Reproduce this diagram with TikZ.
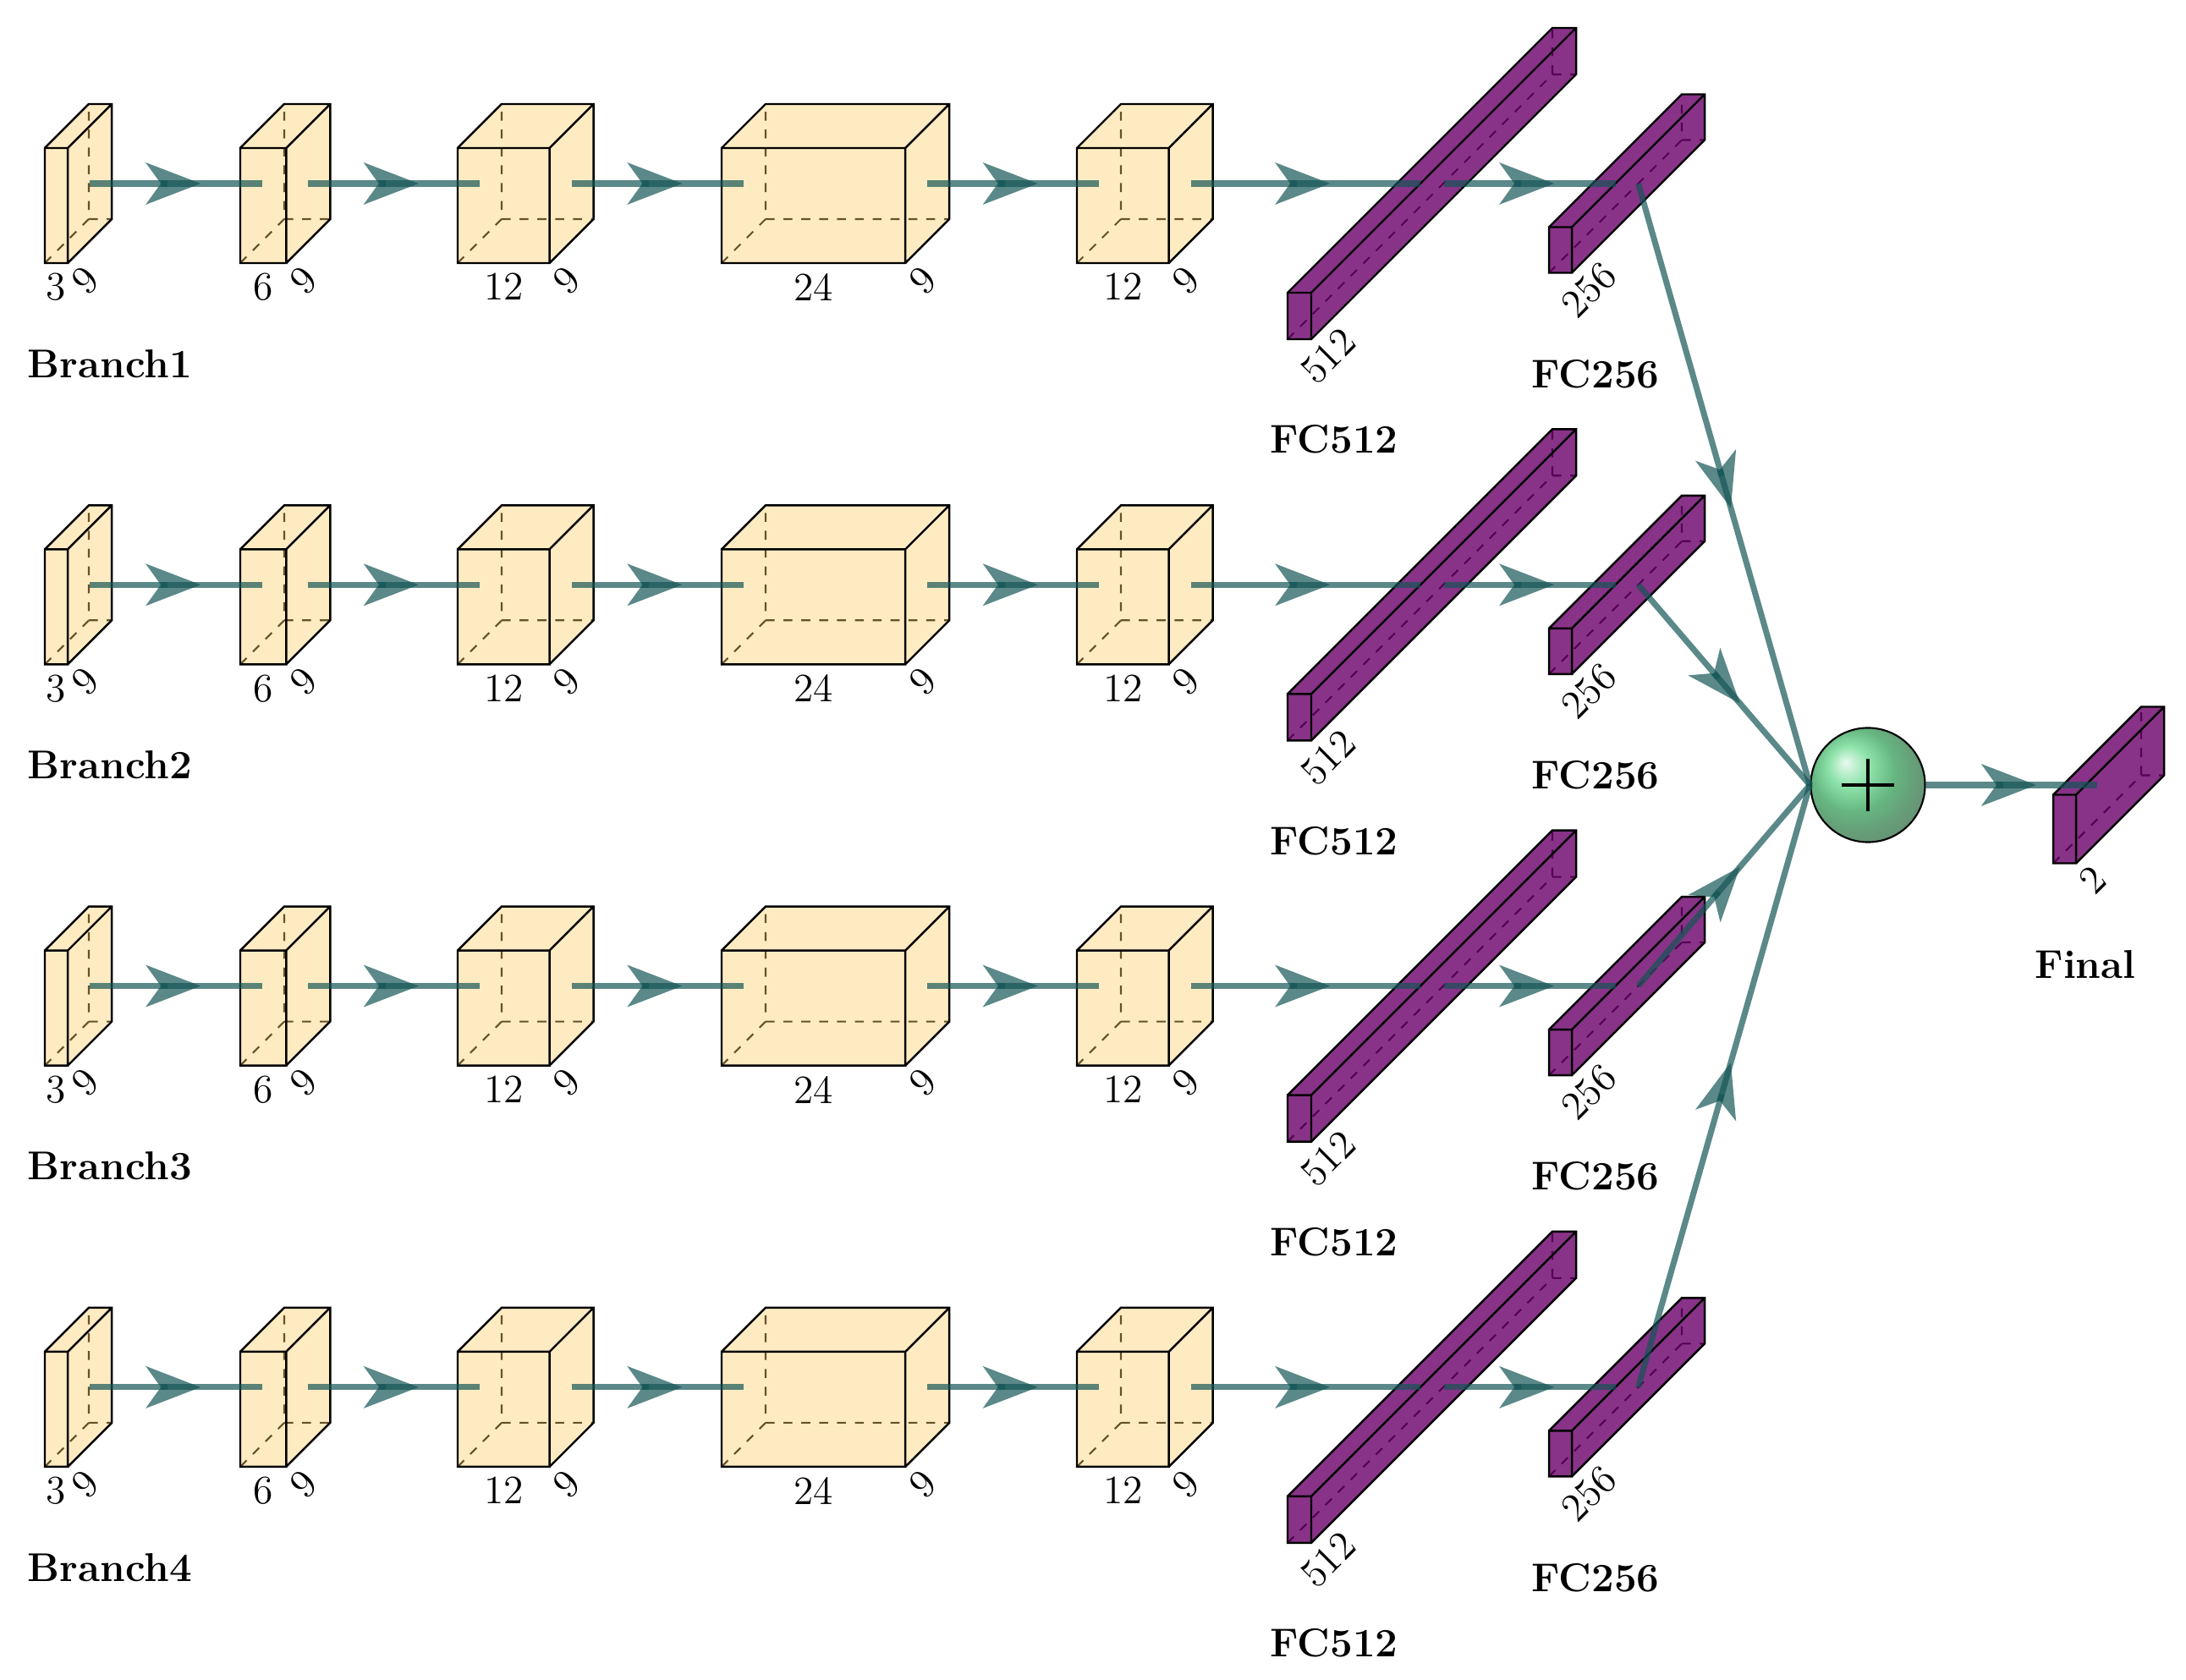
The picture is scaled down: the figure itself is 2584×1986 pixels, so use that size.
\documentclass[tikz,border=0pt]{standalone}
\usepackage{fontspec}
\usepackage{tikz}
\usetikzlibrary{arrows.meta,decorations.markings}
\definecolor{convfill}{RGB}{255,204,102}
\definecolor{fcfill}{RGB}{106,0,106}
\definecolor{edgecol}{RGB}{21,85,85}
\definecolor{sumgreen}{RGB}{0,191,64}

% cuboid: #1 name, #2 front-left x, #3 centre y, #4 width, #5 height, #6 depth, #7 fill, #8 fill opacity
\newcommand{\cuboid}[8]{%
  \pgfmathsetmacro\cbt{#3+#6/2-#5/2}%
  \pgfmathsetmacro\cbb{#3+#6/2+#5/2}%
  \pgfmathsetmacro\cbr{#2+#4}%
  \coordinate (#1-w) at (#2+#6/2,#3);
  \coordinate (#1-e) at (\cbr+#6/2,#3);
  \coordinate (#1-fbc) at (#2/2+\cbr/2,\cbb);
  \coordinate (#1-fbr) at (\cbr,\cbb);
  \draw[backline] (#2,\cbb) -- ++(#6,-#6) -- ++(0,-#5) ++(0,#5) -- ++(#4,0);
  \fill[#7,fill opacity=#8] (#2,\cbt) rectangle (\cbr,\cbb)
    (#2,\cbt) -- ++(#6,-#6) -- ++(#4,0) -- (\cbr,\cbt) -- cycle
    (\cbr,\cbt) -- ++(#6,-#6) -- ++(0,#5) -- (\cbr,\cbb) -- cycle;
  \draw[frontline] (#2,\cbt) rectangle (\cbr,\cbb)
    (#2,\cbt) -- ++(#6,-#6) -- ++(#4,0) -- ++(0,#5) -- (\cbr,\cbb)
    (\cbr,\cbt) -- ++(#6,-#6);
}

\begin{document}
\begin{tikzpicture}[x=0.01cm,y=-0.01cm,
    capt/.style={font=\fontsize{13.5}{16}\selectfont\bfseries},
    dimlab/.style={font=\fontsize{13.5}{16}\selectfont},
    backline/.style={dashed,line width=.6pt},
    frontline/.style={line width=.7pt},
    sumball/.style={circle,draw,line width=.6pt,inner sep=0,minimum size=1.35cm,
      ball color=sumgreen,fill opacity=.6},
    conn/.style={line width=2pt,draw=edgecol,opacity=.7,postaction={decorate},
      decoration={markings,mark=at position .5 with
        {\draw[edgecol,line width=2pt,opacity=.7,
          -{Stealth[length=.65cm,width=.5cm,inset=.18cm,line width=0pt]}] (-.1cm,0) -- (.29cm,0);}}}]
  \useasboundingbox (0,0) rectangle (2584,1986);

  \node[sumball] (sum) at (2208,928) {};
  \draw[line width=1pt] (sum.center) ++(-31,0) -- ++(62,0)
    (sum.center) ++(0,-31) -- ++(0,62);

  \foreach \k in {1,...,4}{
    \pgfmathsetmacro\yc{217+474.3*(\k-1)}
    \foreach \i/\x/\w in {1/53/3,2/284/6,3/541/12,4/853/24,5/1273/12}{
      \cuboid{c\k-\i}{\x}{\yc}{9.05*\w}{136}{52}{convfill}{.4}
      \node[dimlab,below] (c\k-\i-x) at (c\k-\i-fbc) {\w};
      \node[dimlab,rotate=45,anchor=north] (c\k-\i-z) at (c\k-\i-fbr) {9};
    }
    \node[capt] (br\k) at (130,\yc+213) {Branch\k};
    \cuboid{fa\k}{1522}{\yc}{28}{55}{313}{fcfill}{.8}
    \node[dimlab,rotate=45,anchor=north] (fa\k-z) at (fa\k-fbr) {512};
    \node[capt] (fa\k-t) at (1577,\yc+302.6) {FC512};
    \cuboid{fb\k}{1831}{\yc}{27}{54}{157}{fcfill}{.8}
    \node[dimlab,rotate=45,anchor=north] (fb\k-z) at (fb\k-fbr) {256};
    \node[capt] (fb\k-t) at (1886,\yc+225) {FC256};
    \foreach \i/\j in {1/2,2/3,3/4,4/5}{\draw[conn] (c\k-\i-e) -- (c\k-\j-w);}
    \draw[conn] (c\k-5-e) -- (fa\k-w);
    \draw[conn] (fa\k-e) -- (fb\k-w);
    \draw[conn] (fb\k-e) -- (sum.west);
  }

  \cuboid{out}{2427}{928}{27}{81}{104}{fcfill}{.8}
  \node[dimlab,rotate=45,anchor=north] (out-z) at (out-fbr) {2};
  \node[capt] (out-t) at (2465,1140) {Final};
  \draw[conn] (sum.east) -- (out-w);
\end{tikzpicture}
\end{document}
